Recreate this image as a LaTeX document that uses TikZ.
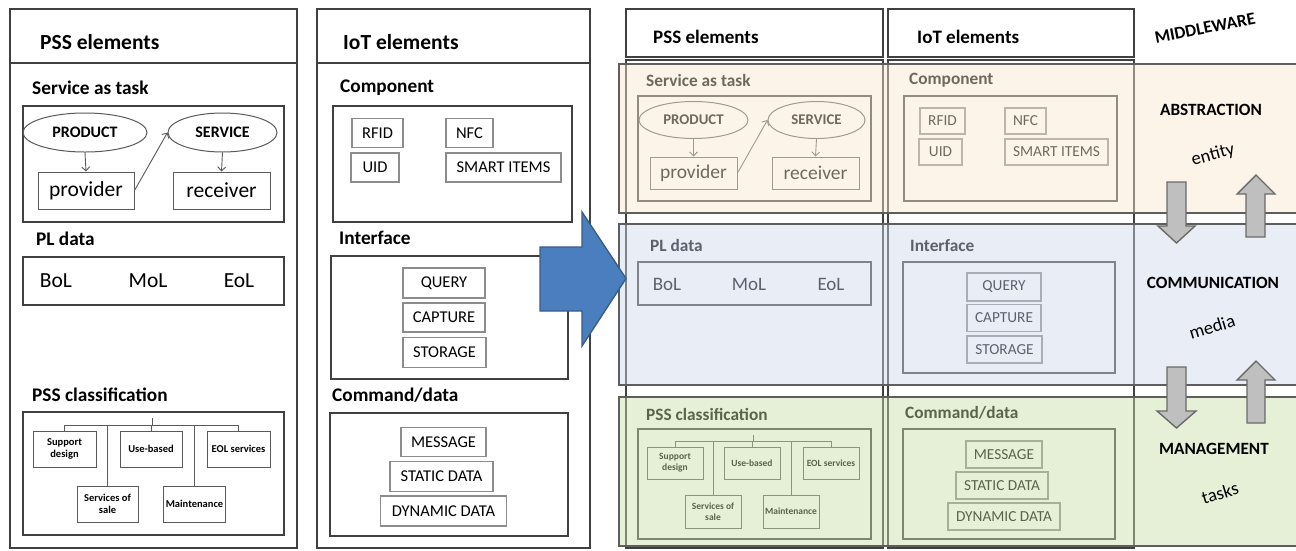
\documentclass[tikz,border=0pt]{standalone}
\usepackage{fontspec}
\setmainfont{Carlito}
\usetikzlibrary{shapes.geometric,arrows.meta}
\newcommand\fsz[1]{\fontsize{#1}{#1}\selectfont}
\definecolor{framec}{HTML}{404040}
\definecolor{linec}{HTML}{5A5A5A}
\definecolor{itemc}{HTML}{8C8C8C}
\definecolor{bandA}{RGB}{250,230,208}
\definecolor{bandB}{RGB}{204,217,237}
\definecolor{bandC}{RGB}{199,222,168}
\definecolor{bandline}{HTML}{5E5E5E}
\definecolor{bluefill}{HTML}{4A7EBF}
\definecolor{blueline}{HTML}{385D8A}
\definecolor{greyfill}{HTML}{BFBFBF}
\definecolor{greyline}{HTML}{6A6A6A}
\begin{document}
\begin{tikzpicture}[x=1pt,y=-1pt,
  every node/.style={inner sep=0pt},
  frame/.style={draw=framec, line width=1.6pt},
  grp/.style={draw=framec, line width=1.4pt},
  ttl/.style={anchor=west, font=\bfseries\fsz{#1}},
  sec/.style={anchor=west, font=\bfseries\fsz{#1}},
  ell/.style={ellipse, draw=linec, line width=1pt, font=\bfseries\fsz{#1}},
  wbox/.style={draw=linec, line width=1pt, font=\fsz{#1}},
  item/.style={draw=itemc, line width=1.1pt, font=\fsz{#1}},
  plain/.style={font=\fsz{#1}},
  clsL/.style={draw=linec, line width=0.9pt, align=center, font=\bfseries\fontsize{10.5}{12}\selectfont},
  clsR/.style={draw=linec, line width=0.9pt, align=center, font=\bfseries\fontsize{9.5}{11}\selectfont},
  box/.style 2 args={minimum width=#1, minimum height=#2},
  link/.style={draw=linec, line width=0.9pt},
  arr/.style={link, -{Straight Barb[length=4pt, width=8pt]}},
  band/.style={draw=bandline, line width=1.5pt, fill opacity=0.45},
  mw/.style={font=\bfseries\fsz{17.2}},
  mwi/.style={font=\fsz{18.5}},
  garrow/.style={draw=greyline, fill=greyfill, line width=1.4pt, line join=miter},
  barrow/.style={draw=blueline, fill=bluefill, line width=1.4pt, line join=miter}
]
\useasboundingbox (0,0) rectangle (1296,550);
\fill[white] (0,0) rectangle (1296,550);

% ---------------- PSS elements panel ----------------
\draw[frame] (10,9) rectangle (297,548);
\draw[frame] (10,63) -- (297,63);
\node[ttl=21.5] (Lt) at (40,42) {PSS elements};

\node[sec=19.3] (Ls1) at (32,88) {Service as task};
\draw[grp] (23,106) rectangle (284,222);
\node[ell=16, box={124}{39}] (Lprod) at (85,132.5) {PRODUCT};
\node[ell=16, box={109}{39}] (Lserv) at (222.5,132.5) {SERVICE};
\node[wbox=21.5, box={96}{37}] (Lprov) at (86,190.5) {provider};
\node[wbox=21.5, box={97}{37}] (Lrecv) at (221.5,190.5) {receiver};
\draw[arr] (Lprod.south) -- (Lprov.north);
\draw[arr] (Lserv.south) -- (Lrecv.north);
\draw[arr] (Lprov.east) -- (Lserv.west);

\node[sec=19.3] (Ls2) at (36,239) {PL data};
\draw[grp] (23,257) rectangle (284,305);
\node[plain=21.5] (Lbol) at (56,281) {BoL};
\node[plain=21.5] (Lmol) at (148,281) {MoL};
\node[plain=21.5] (Leol) at (239,281) {EoL};

\node[sec=19.3] (Ls3) at (32,395) {PSS classification};
\draw[grp] (23,412) rectangle (284,535);
\coordinate (Lroot) at (152,418);
\coordinate (Lbus) at (152,425);
\node[clsL, box={63}{36}] (Lsd) at (64.5,449) {Support\\design};
\node[clsL, box={62}{36}] (Lub) at (151,449) {Use-based};
\node[clsL, box={63}{36}] (Leos) at (238.5,449) {EOL services};
\node[clsL, box={61}{36}] (Lsos) at (107.5,504) {Services of\\sale};
\node[clsL, box={62}{36}] (Lmt) at (194.5,504) {Maintenance};
\draw[link] (Lroot) -- (Lbus);
\draw[link] (Lsd.north) -- (Lsd.north |- Lbus) -- (Leos.north |- Lbus) -- (Leos.north);
\draw[link] (Lub.north) -- (Lub.north |- Lbus);
\draw[link] (Lsos.north) -- (Lsos.north |- Lbus);
\draw[link] (Lmt.north) -- (Lmt.north |- Lbus);

% ---------------- IoT elements panel ----------------
\draw[frame] (317,9) rectangle (590,548);
\draw[frame] (317,63) -- (590,63);
\node[ttl=21.5] (Mt) at (343,42) {IoT elements};

\node[sec=19.3] (Ms1) at (340,88) {Component};
\draw[grp] (333,106) rectangle (572,222);
\node[item=16.5, box={51}{29}] (Mrfid) at (377.5,133) {RFID};
\node[item=16.5, box={47}{29}] (Mnfc) at (469.5,133) {NFC};
\node[item=16.5, box={48}{29}] (Muid) at (375,167.5) {UID};
\node[item=16.5, box={115}{29}] (Msmart) at (503.5,167.5) {SMART ITEMS};

\node[sec=19.3] (Ms2) at (339,238) {Interface};
\draw[grp] (331,256) rectangle (568,379);
\node[item=16.5, box={82}{30}] (Mquery) at (444,283) {QUERY};
\node[item=16.5, box={82}{29}] (Mcapt) at (444,317.5) {CAPTURE};
\node[item=16.5, box={83}{30}] (Mstor) at (444.5,352.5) {STORAGE};

\node[sec=19.3] (Ms3) at (332,395) {Command/data};
\draw[grp] (330,413) rectangle (568,536);
\node[item=16.5, box={85}{29}] (Mmsg) at (443.5,442) {MESSAGE};
\node[item=16.5, box={103}{30}] (Mstat) at (441.5,476.5) {STATIC DATA};
\node[item=16.5, box={126}{30}] (Mdyn) at (443.5,511) {DYNAMIC DATA};

% ---------------- combined view: PSS column ----------------
\draw[frame] (626,9) rectangle (883,57);
\draw[frame] (626,60) rectangle (883,548);
\node[ttl=19] (Rt1) at (653,37) {PSS elements};

\node[sec=17.3] (Rs1) at (646,80) {Service as task};
\draw[grp] (638,96) rectangle (871,201);
\node[ell=14.8, box={109}{37}] (Rprod) at (693.5,120) {PRODUCT};
\node[ell=14.8, box={97}{37}] (Rserv) at (816.5,120) {SERVICE};
\node[wbox=19.5, box={87}{32}] (Rprov) at (693.5,173) {provider};
\node[wbox=19.5, box={87}{32}] (Rrecv) at (815.5,173) {receiver};
\draw[arr] (Rprod.south) -- (Rprov.north);
\draw[arr] (Rserv.south) -- (Rrecv.north);
\draw[arr] (Rprov.east) -- (Rserv.west);

\node[sec=17.3] (Rs2) at (650,245) {PL data};
\draw[grp] (638,262) rectangle (871,305);
\node[plain=19] (Rbol) at (667,284) {BoL};
\node[plain=19] (Rmol) at (749,284) {MoL};
\node[plain=19] (Reol) at (831,284) {EoL};

\node[sec=17.3] (Rs3) at (646,414) {PSS classification};
\draw[grp] (638,429) rectangle (871,539);
\coordinate (Rroot) at (753,435);
\coordinate (Rbus) at (753,441);
\node[clsR, box={56}{32}] (Rsd) at (675,463) {Support\\design};
\node[clsR, box={56}{32}] (Rub) at (752,463) {Use-based};
\node[clsR, box={56}{32}] (Reos) at (831,463) {EOL services};
\node[clsR, box={56}{33}] (Rsos) at (713,511.5) {Services of\\sale};
\node[clsR, box={56}{33}] (Rmt) at (791,511.5) {Maintenance};
\draw[link] (Rroot) -- (Rbus);
\draw[link] (Rsd.north) -- (Rsd.north |- Rbus) -- (Reos.north |- Rbus) -- (Reos.north);
\draw[link] (Rub.north) -- (Rub.north |- Rbus);
\draw[link] (Rsos.north) -- (Rsos.north |- Rbus);
\draw[link] (Rmt.north) -- (Rmt.north |- Rbus);

% ---------------- combined view: IoT column ----------------
\draw[frame] (888,9) rectangle (1134,57);
\draw[frame] (888,60) rectangle (1134,548);
\node[ttl=19] (Rt2) at (917,37) {IoT elements};

\node[sec=17.3] (Rc1) at (909,80) {Component};
\draw[grp] (904,96) rectangle (1117,201);
\node[item=15.3, box={45}{26}] (Rrfid) at (942.5,121) {RFID};
\node[item=15.3, box={41}{26}] (Rnfc) at (1025.5,121) {NFC};
\node[item=15.3, box={43}{26}] (Ruid) at (940.5,152) {UID};
\node[item=15.3, box={103}{26}] (Rsmart) at (1056.5,152) {SMART ITEMS};

\node[sec=17.3] (Rc2) at (910,246) {Interface};
\draw[grp] (903,262) rectangle (1115,373);
\node[item=15.3, box={74}{28}] (Rquery) at (1004,287) {QUERY};
\node[item=15.3, box={74}{27}] (Rcapt) at (1004,318) {CAPTURE};
\node[item=15.3, box={75}{27}] (Rstor) at (1004.5,349.5) {STORAGE};

\node[sec=17.3] (Rc3) at (905,413) {Command/data};
\draw[grp] (903,429) rectangle (1115,539);
\node[item=15.3, box={76}{27}] (Rmsg) at (1004,454.5) {MESSAGE};
\node[item=15.3, box={92}{27}] (Rstat) at (1002,485.5) {STATIC DATA};
\node[item=15.3, box={112}{27}] (Rdyn) at (1004,516.5) {DYNAMIC DATA};

% ---------------- translucent layer bands ----------------
\draw[band, fill=bandA] (619,64) rectangle (1300,213);
\draw[band, fill=bandB] (619,224) rectangle (1300,385);
\draw[band, fill=bandC] (619,397) rectangle (1300,546);

% ---------------- middleware column ----------------
\node[mw, font=\bfseries\fsz{17.5}, rotate=11] (mwt) at (1205,28) {MIDDLEWARE};
\node[mw] (abs) at (1211,110) {ABSTRACTION};
\node[mwi, rotate=15] (ent) at (1213,155) {entity};
\node[mw] (com) at (1213,283) {COMMUNICATION};
\node[mwi, rotate=17] (med) at (1212,327) {media};
\node[mw] (man) at (1214,449) {MANAGEMENT};
\node[mwi, rotate=17] (tsk) at (1220,493) {tasks};

\draw[garrow] (1167,182) -- (1186,182) -- (1186,226) -- (1195,226) -- (1176.5,243) -- (1158,226) -- (1167,226) -- cycle;
\draw[garrow] (1246,237) -- (1265,237) -- (1265,194) -- (1275,194) -- (1256,175) -- (1237,194) -- (1246,194) -- cycle;
\draw[garrow] (1167,367) -- (1186,367) -- (1186,411) -- (1196,411) -- (1176.5,428) -- (1157,411) -- (1167,411) -- cycle;
\draw[garrow] (1247,423) -- (1265,423) -- (1265,380) -- (1275,380) -- (1256,361) -- (1237,380) -- (1247,380) -- cycle;

% ---------------- big transition arrow ----------------
\draw[barrow] (540,247) -- (582,247) -- (582,212) -- (626,278.5) -- (582,346) -- (582,311) -- (540,311) -- cycle;
\end{tikzpicture}
\end{document}
